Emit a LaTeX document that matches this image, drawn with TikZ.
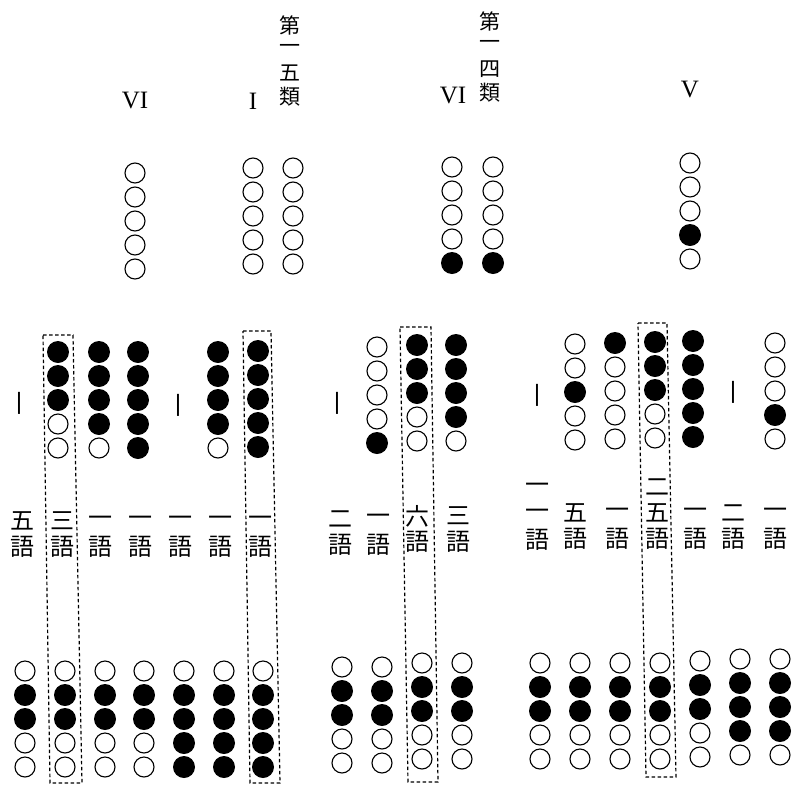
\documentclass[tikz,border=0pt]{standalone}
\usepackage{fontspec}
\setmainfont{Liberation Serif}
\newfontfamily\jp{Noto Sans CJK JP}
\tikzset{
  obead/.style={circle,draw=black,line width=1.1pt,minimum size=20pt,inner sep=0pt},
  fbead/.style={circle,fill=black,minimum size=22pt,inner sep=0pt},
  dbox/.style={draw=black,line width=1.2pt,dash pattern=on 3.5pt off 2.5pt},
  jch/.style={font=\jp\fontsize{24}{24}\selectfont,inner sep=0pt},
  jtop/.style={font=\jp\fontsize{21}{21}\selectfont,inner sep=0pt},
  roman/.style={font=\fontsize{25}{25}\selectfont,inner sep=0pt},
}
\newcommand{\beadcol}[4]{%
  \foreach \v [count=\i from 0] in {#4} {%
    \ifnum\v=1
      \node[fbead] (#1-\i) at (#2,#3+24*\i) {};
    \else
      \node[obead] (#1-\i) at (#2,#3+24*\i) {};
    \fi
  }}
% vertical label: style, name, x, y below last char, pitch, chars from last to first
\newcommand{\vlab}[6]{%
  \foreach \c [count=\i from 1] in {#6} {%
    \node[#1] (#2-\i) at (#3,#4-#5*\i) {\c};
  }}
\begin{document}
\begin{tikzpicture}[x=1pt,y=-1pt]
\useasboundingbox (0,0) rectangle (796,793);
\fill[white] (0,0) rectangle (796,793);

% top labels
\node[roman] (r1) at (135,101) {VI};
\node[roman] (r2) at (253,101) {I};
\node[roman] (r3) at (453,96) {VI};
\node[roman] (r4) at (690,90) {V};
\vlab{jtop}{t1}{290}{121}{24}{類,五,一,第}
\vlab{jtop}{t2}{490}{117}{24}{類,四,一,第}

% top beads
\beadcol{a1}{135}{173}{0,0,0,0,0}
\beadcol{a2}{253}{168}{0,0,0,0,0}
\beadcol{a3}{293}{168}{0,0,0,0,0}
\beadcol{a4}{452}{167}{0,0,0,0,1}
\beadcol{a5}{493}{167}{0,0,0,0,1}
\beadcol{a6}{690}{163}{0,0,0,1,0}

% middle beads
\beadcol{mA}{58}{352}{1,1,1,0,0}
\beadcol{mB}{99}{352}{1,1,1,1,0}
\beadcol{mC}{138}{352}{1,1,1,1,1}
\beadcol{mD}{218}{352}{1,1,1,1,0}
\beadcol{mE}{258}{351}{1,1,1,1,1}
\beadcol{mF}{377}{347}{0,0,0,0,1}
\beadcol{mG}{417}{345}{1,1,1,0,0}
\beadcol{mH}{456}{345}{1,1,1,1,0}
\beadcol{mI}{575}{344}{0,0,1,0,0}
\beadcol{mJ}{615}{343}{1,0,0,0,0}
\beadcol{mK}{655}{342}{1,1,1,0,0}
\beadcol{mL}{693}{341}{1,1,1,1,1}
\beadcol{mM}{775}{343}{0,0,0,1,0}

% dash marks
\node[jch] (d1) at (20,403) {丨};
\node[jch] (d2) at (178,405) {丨};
\node[jch] (d3) at (337,403) {丨};
\node[jch] (d4) at (537,395) {丨};
\node[jch] (d5) at (733,392) {丨};

% word-count labels (chars from last to first)
\vlab{jch}{w1}{22}{573}{26}{語,五}
\vlab{jch}{w2}{62}{573}{26}{語,三}
\vlab{jch}{w3}{100}{573}{26}{語,一}
\vlab{jch}{w4}{140}{573}{26}{語,一}
\vlab{jch}{w5}{180}{573}{26}{語,一}
\vlab{jch}{w6}{220}{573}{26}{語,一}
\vlab{jch}{w7}{260}{573}{26}{語,一}
\vlab{jch}{w8}{340}{571}{26}{語,二}
\vlab{jch}{w9}{378}{571}{26}{語,一}
\vlab{jch}{w10}{417}{568}{26}{語,六}
\vlab{jch}{w11}{458}{568}{26}{語,三}
\vlab{jch}{w12}{537}{566}{26}{語,一,一}
\vlab{jch}{w13}{575}{565}{26}{語,五}
\vlab{jch}{w14}{617}{565}{26}{語,一}
\vlab{jch}{w15}{657}{565}{26}{語,五,二}
\vlab{jch}{w16}{695}{565}{26}{語,一}
\vlab{jch}{w17}{733}{565}{26}{語,二}
\vlab{jch}{w18}{775}{565}{26}{語,一}

% bottom beads
\foreach \x [count=\k] in {25,65,105,144} {\beadcol{bL\k}{\x}{671}{0,1,1,0,0}}
\foreach \x [count=\k] in {184,224,263} {\beadcol{bM\k}{\x}{671}{0,1,1,1,1}}
\beadcol{bN1}{342}{667}{0,1,1,0,0}
\beadcol{bN2}{382}{667}{0,1,1,0,0}
\beadcol{bN3}{422}{663}{0,1,1,0,0}
\beadcol{bN4}{462}{663}{0,1,1,0,0}
\foreach \x [count=\k] in {540,580,620,660} {\beadcol{bR\k}{\x}{663}{0,1,1,0,0}}
\beadcol{bS1}{700}{661}{0,1,1,0,0}
\beadcol{bS2}{740}{659}{0,1,1,1,0}
\beadcol{bS3}{780}{659}{0,1,1,1,0}

% dashed boxes
\coordinate (p1a) at (43,335); \coordinate (p1b) at (73,335);
\coordinate (p1c) at (82,783); \coordinate (p1d) at (50,783);
\draw[dbox] (p1a) -- (p1b) -- (p1c) -- (p1d) -- cycle;
\coordinate (p2a) at (243,331); \coordinate (p2b) at (271,331);
\coordinate (p2c) at (280,783); \coordinate (p2d) at (250,783);
\draw[dbox] (p2a) -- (p2b) -- (p2c) -- (p2d) -- cycle;
\coordinate (p3a) at (400,327); \coordinate (p3b) at (431,327);
\coordinate (p3c) at (438,782); \coordinate (p3d) at (408,782);
\draw[dbox] (p3a) -- (p3b) -- (p3c) -- (p3d) -- cycle;
\coordinate (p4a) at (638,323); \coordinate (p4b) at (667,323);
\coordinate (p4c) at (676,777); \coordinate (p4d) at (646,777);
\draw[dbox] (p4a) -- (p4b) -- (p4c) -- (p4d) -- cycle;
\end{tikzpicture}
\end{document}
